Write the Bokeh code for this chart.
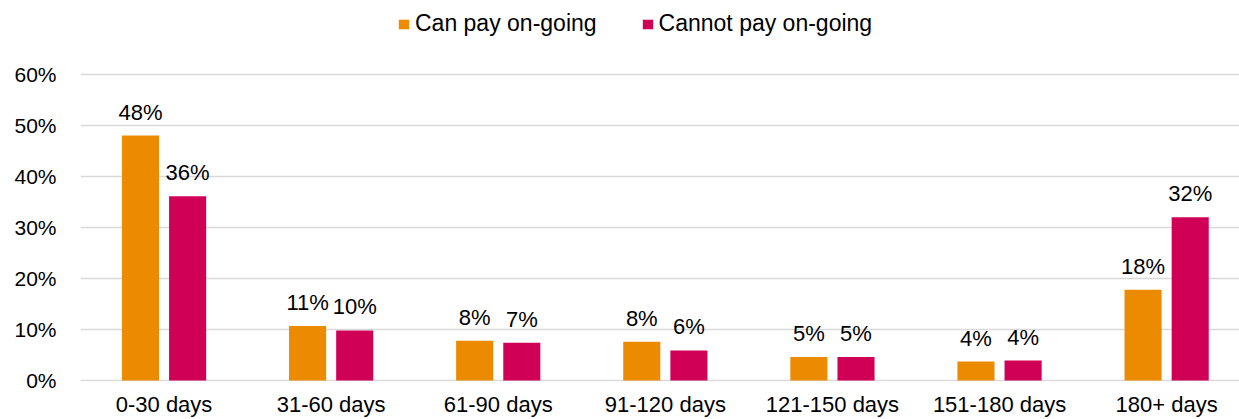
from bokeh.plotting import figure
from bokeh.models import Range1d, FixedTicker, ColumnDataSource, LabelSet, Legend, LegendItem
from bokeh.transform import dodge
from bokeh.core.properties import value
from bokeh.embed import file_html
from bokeh.resources import INLINE

categories = ["0-30 days", "31-60 days", "61-90 days", "91-120 days",
              "121-150 days", "151-180 days", "180+ days"]
can_pay = [48.0, 10.7, 7.8, 7.6, 4.6, 3.7, 17.8]
cannot_pay = [36.1, 9.8, 7.4, 5.9, 4.6, 3.9, 32.0]
series_names = ["Can pay on-going", "Cannot pay on-going"]
series_colors = ["#ED8B00", "#D10057"]
y_ticks = [0, 10, 20, 30, 40, 50, 60]

FONT = "Liberation Sans"
xs = list(range(len(categories)))

src = ColumnDataSource(dict(
    x=xs,
    can=can_pay,
    cannot=cannot_pay,
    can_lbl=[f"{round(v)}%" for v in can_pay],
    cannot_lbl=[f"{round(v)}%" for v in cannot_pay],
))

p = figure(width=1239, height=419, output_backend="svg", toolbar_location=None,
           x_range=Range1d(-0.5, 6.436), y_range=Range1d(-0.195, 74.46),
           min_border_left=80, min_border_right=0, min_border_top=0, min_border_bottom=37)
p.outline_line_color = None
p.background_fill_color = "white"
p.border_fill_color = "white"

bw = 0.222
off = 0.141
r1 = p.vbar(x=dodge("x", -off), top="can", width=bw, source=src,
            fill_color=series_colors[0], line_color=None)
r2 = p.vbar(x=dodge("x", off), top="cannot", width=bw, source=src,
            fill_color=series_colors[1], line_color=None)

for col, lbl, o in (("can", "can_lbl", -off), ("cannot", "cannot_lbl", off)):
    p.add_layout(LabelSet(x=dodge("x", o), y=col, text=lbl, source=src,
                          text_align="center", text_baseline="alphabetic", y_offset=16,
                          text_font=value(FONT), text_font_size=value("22px"),
                          text_color="#000000"))

# axes
for ax in (p.xaxis[0], p.yaxis[0]):
    ax.axis_line_color = None
    ax.major_tick_line_color = None
    ax.minor_tick_line_color = None
    ax.major_tick_out = 0
    ax.major_tick_in = 0
    ax.minor_tick_out = 0
    ax.minor_tick_in = 0
    ax.major_label_text_font = FONT
    ax.major_label_text_color = "#000000"

p.xaxis.ticker = FixedTicker(ticks=xs)
p.xaxis.major_label_overrides = {i: c for i, c in enumerate(categories)}
p.xaxis.major_label_standoff = 10
p.xaxis.major_label_text_font_size = "22px"

p.yaxis.ticker = FixedTicker(ticks=y_ticks)
p.yaxis.major_label_overrides = {t: f"{t}%" for t in y_ticks}
p.yaxis.major_label_standoff = 24
p.yaxis.major_label_text_font_size = "21px"

p.xgrid.visible = False
p.ygrid.ticker = FixedTicker(ticks=y_ticks)
p.ygrid.grid_line_color = "#d9d9d9"
p.ygrid.grid_line_width = 1.3

legend = Legend(items=[LegendItem(label=series_names[0], renderers=[r1]),
                       LegendItem(label=series_names[1], renderers=[r2])],
                location=(317, 344), orientation="horizontal",
                glyph_width=13, glyph_height=12, label_standoff=5, spacing=44,
                padding=0, margin=0, border_line_color=None, background_fill_alpha=0,
                label_text_font=FONT, label_text_font_size="23px", label_text_color="#000000")
p.add_layout(legend)

open("out.html", "w").write(file_html(p, INLINE))
